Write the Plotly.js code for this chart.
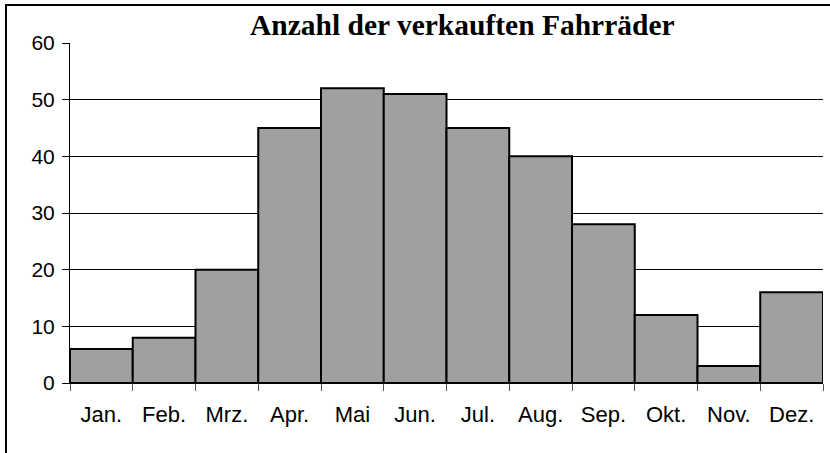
<!DOCTYPE html>
<html>
<head>
<meta charset="utf-8">
<script src="https://cdn.plot.ly/plotly-3.0.1.min.js"></script>
<style>html,body{margin:0;padding:0;background:#fff;}#chart{width:830px;height:453px;}</style>
</head>
<body>
<div id="chart"></div>
<script>
const months = ["Jan.", "Feb.", "Mrz.", "Apr.", "Mai", "Jun.", "Jul.", "Aug.", "Sep.", "Okt.", "Nov.", "Dez."];
const sold = [6, 8, 20, 45, 52, 51, 45, 40, 28, 12, 3, 16];
const yTicks = [0, 10, 20, 30, 40, 50, 60];
const chartTitle = "Anzahl der verkauften Fahrräder";

const trace = {
  type: "bar",
  x: months,
  y: sold,
  marker: {color: "#a0a0a0", line: {color: "#000", width: 2}},
  width: 1,
  hoverinfo: "x+y"
};

const layout = {
  width: 830, height: 453,
  margin: {l: 70, r: 7, t: 43, b: 70},
  paper_bgcolor: "#fff", plot_bgcolor: "#fff",
  showlegend: false,
  bargap: 0,
  title: {
    text: "<b>" + chartTitle + "</b>",
    font: {family: "Liberation Serif, Times New Roman, serif", size: 29.5, color: "#000"},
    xref: "paper", x: 0.521, xanchor: "center",
    yref: "container", y: 1 - 24.5/453, yanchor: "middle"
  },
  xaxis: {
    type: "category",
    tickson: "boundaries",
    ticks: "outside", ticklen: 7, tickcolor: "#555", tickwidth: 1,
    showgrid: false, showline: true, linecolor: "#000", linewidth: 1,
    tickfont: {family: "Liberation Sans, Arial, sans-serif", size: 22, color: "#000"},
    ticklabelstandoff: 12,
    fixedrange: true
  },
  yaxis: {
    range: [0, 60],
    tickvals: yTicks,
    ticks: "outside", ticklen: 7, tickcolor: "#000", tickwidth: 1,
    showgrid: true, gridcolor: "#000", gridwidth: 1,
    showline: true, linecolor: "#000", linewidth: 1,
    zeroline: false,
    tickfont: {family: "Liberation Sans, Arial, sans-serif", size: 21, color: "#000"},
    ticklabelstandoff: 3,
    fixedrange: true
  },
  shapes: [{
    type: "rect", xref: "paper", yref: "paper",
    x0: (6 - 70) / 753, x1: 1.2,
    y0: -1, y1: (383 - 5) / 340,
    line: {color: "#000", width: 2}, fillcolor: "rgba(0,0,0,0)", layer: "above"
  }]
};

Plotly.newPlot("chart", [trace], layout, {displayModeBar: false, staticPlot: true});
</script>
</body>
</html>
